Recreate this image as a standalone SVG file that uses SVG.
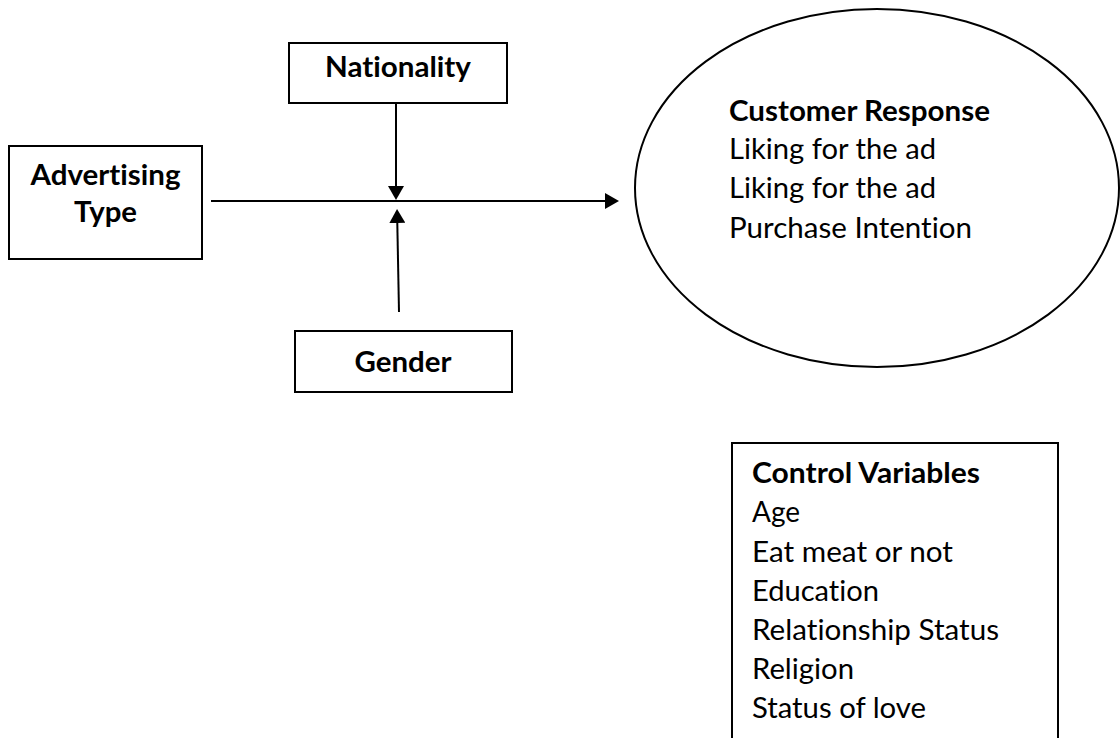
<svg xmlns="http://www.w3.org/2000/svg" width="1120" height="738" viewBox="0 0 1120 738">
<style>
.box{fill:#fff;stroke:#000;stroke-width:2}
.t{font-family:Lato,"Open Sans","Liberation Sans",sans-serif;font-size:28px;fill:#000;font-variant-ligatures:none;font-feature-settings:"liga" 0,"clig" 0}
.b{font-weight:bold}
.c{text-anchor:middle}
.con{stroke:#000;stroke-width:2;fill:none;marker-end:url(#ah)}
</style>
<defs>
<marker id="ah" viewBox="0 0 14 16" refX="0" refY="8" markerWidth="14" markerHeight="16" markerUnits="userSpaceOnUse" orient="auto">
<path d="M0,0 L14,8 L0,16 z" fill="#000"/>
</marker>
</defs>
<rect width="1120" height="738" fill="#fff"/>
<g id="connectors">
<line class="con" x1="211" y1="201" x2="605" y2="201"/>
<line class="con" x1="396" y1="103" x2="396" y2="186"/>
<line class="con" x1="399" y1="312" x2="397.3" y2="223"/>
</g>
<g id="advertising-type">
<rect class="box" x="9" y="146" width="193" height="113"/>
<text class="t b c" x="105.5" y="185" textLength="150" lengthAdjust="spacingAndGlyphs">Advertising</text>
<text class="t b c" x="105.5" y="222" textLength="63" lengthAdjust="spacingAndGlyphs">Type</text>
</g>
<g id="nationality">
<rect class="box" x="289" y="43" width="218" height="60"/>
<text class="t b c" x="398" y="77" textLength="146" lengthAdjust="spacingAndGlyphs">Nationality</text>
</g>
<g id="gender">
<rect class="box" x="295" y="331" width="217" height="61"/>
<text class="t b c" x="403" y="372" textLength="97" lengthAdjust="spacingAndGlyphs">Gender</text>
</g>
<g id="customer-response">
<ellipse class="box" cx="877" cy="188" rx="242" ry="179"/>
<text class="t b" x="729" y="121" textLength="261" lengthAdjust="spacingAndGlyphs">Customer Response</text>
<text class="t" x="729" y="159" textLength="207" lengthAdjust="spacingAndGlyphs">Liking for the ad</text>
<text class="t" x="729" y="198" textLength="207" lengthAdjust="spacingAndGlyphs">Liking for the ad</text>
<text class="t" x="729" y="238" textLength="243" lengthAdjust="spacingAndGlyphs">Purchase Intention</text>
</g>
<g id="control-variables">
<rect class="box" x="732" y="443" width="326" height="320"/>
<text class="t b" x="752" y="483" textLength="228" lengthAdjust="spacingAndGlyphs">Control Variables</text>
<text class="t" x="752" y="522" textLength="48" lengthAdjust="spacingAndGlyphs">Age</text>
<text class="t" x="752" y="562" textLength="201" lengthAdjust="spacingAndGlyphs">Eat meat or not</text>
<text class="t" x="752" y="601" textLength="127" lengthAdjust="spacingAndGlyphs">Education</text>
<text class="t" x="752" y="640" textLength="247" lengthAdjust="spacingAndGlyphs">Relationship Status</text>
<text class="t" x="752" y="679" textLength="102" lengthAdjust="spacingAndGlyphs">Religion</text>
<text class="t" x="752" y="718" textLength="174" lengthAdjust="spacingAndGlyphs">Status of love</text>
</g>
</svg>
